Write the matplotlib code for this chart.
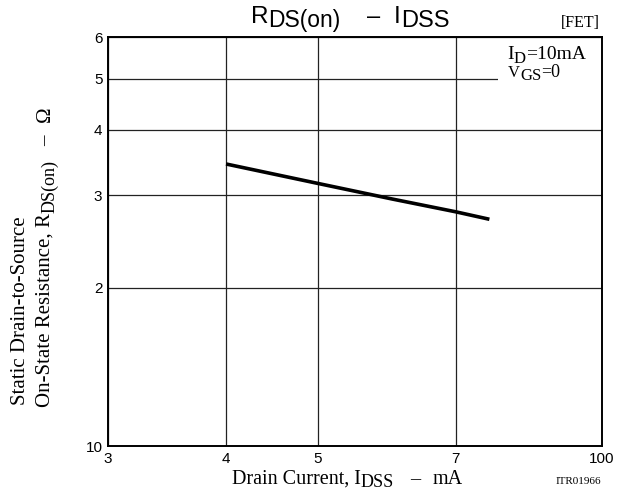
import numpy as np
import matplotlib
matplotlib.use("Agg")
import matplotlib.pyplot as plt
from matplotlib.ticker import FixedLocator, FixedFormatter, NullLocator
from matplotlib.transforms import IdentityTransform
from matplotlib.patches import Rectangle

# data (log-log)
idss = [4.0, 5.0, 6.0, 7.0, 7.6]          # mA
rds_on = [3.44, 3.16, 2.95, 2.79, 2.70]   # ohm

x_ticks = [3, 4, 5, 7, 10]
x_labels = ["3", "4", "5", "7", "100"]
y_ticks = [1, 2, 3, 4, 5, 6]
y_labels = ["10", "2", "3", "4", "5", "6"]

W, H = 624, 500
fig = plt.figure(figsize=(W / 100, H / 100), dpi=100)
ax = fig.add_axes([108 / W, 54 / H, 494 / W, 409 / H])
renderer = fig.canvas.get_renderer()


def rich_text(x, y, parts, family, rotation=0, ha='left'):
    """Place text made of pieces (text, size, drop_px) / gaps (px) in pixel coords.
    y is measured from the top of the image."""
    items = []
    for p in parts:
        if isinstance(p, (int, float)):
            items.append((None, p, 0, 0))
            continue
        s, fs, drop = p
        t = fig.text(0, 0, s, fontsize=fs, family=family)
        w = t.get_window_extent(renderer).width
        t.remove()
        items.append((s, w, fs, drop))
    total = sum(it[1] for it in items)
    pos = {'left': 0, 'center': -total / 2, 'right': -total}[ha]
    th = np.deg2rad(rotation)
    ux, uy = np.cos(th), np.sin(th)
    nx, ny = -np.sin(th), np.cos(th)
    y0 = H - y
    for s, w, fs, drop in items:
        if s is not None:
            fig.text(x + ux * pos - nx * drop, y0 + uy * pos - ny * drop, s,
                     transform=IdentityTransform(), fontsize=fs, family=family,
                     rotation=rotation, rotation_mode='anchor',
                     ha='left', va='baseline')
        pos += w


ax.plot(idss, rds_on, color='black', linewidth=2.6, solid_capstyle='butt', zorder=3)

ax.set_xscale('log')
ax.set_yscale('log')
ax.set_xlim(3, 10)
ax.set_ylim(1, 6)

ax.xaxis.set_major_locator(FixedLocator(x_ticks))
ax.xaxis.set_major_formatter(FixedFormatter(x_labels))
ax.xaxis.set_minor_locator(NullLocator())
ax.yaxis.set_major_locator(FixedLocator(y_ticks))
ax.yaxis.set_major_formatter(FixedFormatter(y_labels))
ax.yaxis.set_minor_locator(NullLocator())
ax.tick_params(length=0, labelsize=11)
ax.tick_params(axis='x', pad=4)
ax.tick_params(axis='y', pad=4)
for lbl in ax.get_xticklabels() + ax.get_yticklabels():
    lbl.set_family('Liberation Sans')

ax.set_axisbelow(True)
ax.grid(True, color='#222222', linewidth=0.9)
for s in ax.spines.values():
    s.set_linewidth(1.4)

# white patch behind the condition text (cuts the gridline at 5)
ax.add_patch(Rectangle((0.7895, 0.8655), 0.2105, 0.117, transform=ax.transAxes,
                       facecolor='white', edgecolor='none', zorder=1))

# ── title ──
rich_text(251, 23, [("R", 17.5, 0), ("DS(on)", 16.5, 4), 26, ("–", 17, 0), 14,
                    ("I", 17.5, 0), ("DSS", 17, 4)], 'Liberation Sans')
fig.text(600, H - 27, '[FET]', transform=IdentityTransform(), ha='right',
         va='baseline', fontsize=11.5, family='Liberation Serif')

# ── condition text ──
rich_text(507, 59, [("I", 14, 0), ("D", 12, 4), ("=10mA", 14, 0)], 'Liberation Serif')
rich_text(508, 77, [("V", 12, 0), ("GS", 12, 3), ("=0", 13, 0)], 'Liberation Serif')

# ── axis labels ──
rich_text(232, 484, [("Drain Current, I", 14.5, 0), ("DSS", 13, 3), 16, ("–", 14.5, 0), 12,
                     ("mA", 14.5, 0)], 'Liberation Serif')
fig.text(578, H - 484, 'ITR01966', transform=IdentityTransform(), ha='center',
         va='baseline', fontsize=8, family='Liberation Serif')

rich_text(25, 405, [("Static Drain-to-Source", 15, 0)], 'Liberation Serif', rotation=90)
rich_text(50, 407, [("On-State Resistance, R", 15, 0), ("DS(on)", 13, 4), 14,
                    ("–", 15, 0), 14, ("Ω", 15, 0)], 'Liberation Serif', rotation=90)

plt.savefig("out.png", dpi=100)
